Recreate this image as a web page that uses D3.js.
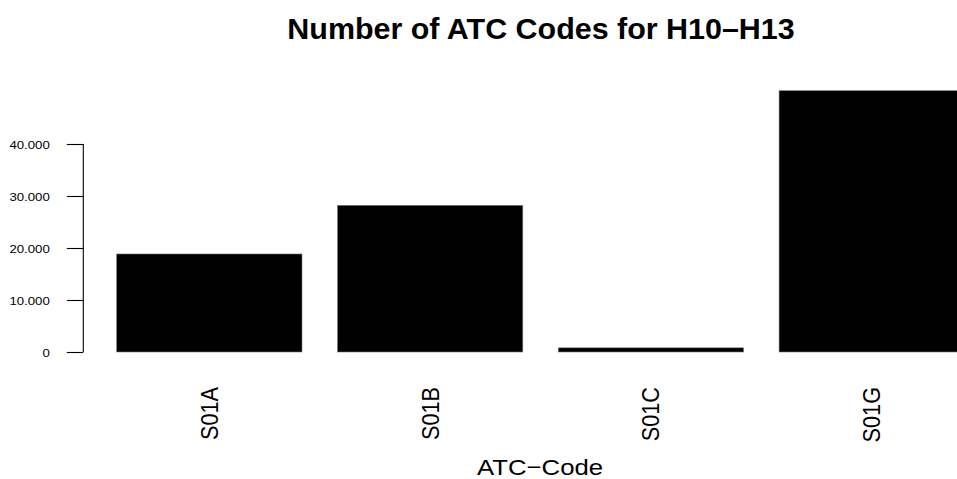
<!DOCTYPE html>
<html>
<head>
<meta charset="utf-8">
<script src="https://cdn.jsdelivr.net/npm/d3@7"></script>
<style>
  html, body { margin: 0; padding: 0; background: #fff; }
  svg { display: block; }
  text { font-family: "Liberation Sans", Arial, Helvetica, sans-serif; fill: #000; }
</style>
</head>
<body>
<svg id="chart" width="957" height="479"></svg>
<script>
const categories = ["S01A", "S01B", "S01C", "S01G"];
const values = [18850, 28200, 800, 50250];
const yTicks = [0, 10000, 20000, 30000, 40000];
const yTickLabels = ["0", "10.000", "20.000", "30.000", "40.000"];
const title = "Number of ATC Codes for H10\u2013H13";
const xTitle = "ATC\u2212Code";

const W = 957, H = 479;
const svg = d3.select("#chart");
const sx = 1.12; // horizontal stretch of the reference

// Scales
const step = 220.8;
const firstBar = 116.7;
const po = 0.1, pi = 0.1608;
const x0 = firstBar - po * step;
const x1 = x0 + step * (categories.length - pi + 2 * po);
const x = d3.scaleBand().domain(categories).range([x0, x1]).paddingInner(pi).paddingOuter(po);
const y = d3.scaleLinear().domain([0, 40000]).range([352, 144]);

// Bars
svg.append("g").selectAll("rect").data(categories).join("rect")
  .attr("x", d => x(d))
  .attr("width", x.bandwidth())
  .attr("y", (d, i) => y(values[i]))
  .attr("height", (d, i) => y(0) - y(values[i]))
  .attr("fill", "#000")
  .attr("stroke", "#777")
  .attr("stroke-width", 0.6);

// Y axis
const yAxis = d3.axisLeft(y).tickValues(yTicks).tickSize(16.5).tickPadding(17)
  .tickFormat((d, i) => yTickLabels[i]);
const gy = svg.append("g").attr("transform", "translate(83.3,0)").call(yAxis);
gy.select(".domain").attr("d", `M0,${y(0)}V${y(40000)}`).attr("stroke", "#000").attr("stroke-width", 1.1);
gy.selectAll(".tick line").attr("stroke", "#000").attr("stroke-width", 1.1);
gy.selectAll(".tick text")
  .attr("font-size", 11.8)
  .attr("font-family", "Liberation Sans, Arial, sans-serif")
  .attr("fill", "#000")
  .attr("dy", "0.35em")
  .each(function() {
    const t = d3.select(this);
    const xx = +t.attr("x");
    t.attr("transform", `translate(${xx},0) scale(${sx},1) translate(${-xx},0)`);
  });

// X labels (rotated)
svg.append("g").selectAll("text").data(categories).join("text")
  .attr("transform", d => `translate(${x(d) + x.bandwidth() / 2},387) scale(${sx},1) rotate(-90)`)
  .attr("text-anchor", "end")
  .attr("dy", "0.35em")
  .attr("font-size", 21.7)
  .text(d => d);

// X axis title
svg.append("text")
  .attr("transform", `translate(540,475) scale(${sx},1)`)
  .attr("text-anchor", "middle")
  .attr("font-size", 23)
  .text(xTitle);

// Title
svg.append("text")
  .attr("transform", `translate(541,39) scale(1.05,1)`)
  .attr("text-anchor", "middle")
  .attr("font-size", 29)
  .attr("font-weight", "bold")
  .text(title);
</script>
</body>
</html>
